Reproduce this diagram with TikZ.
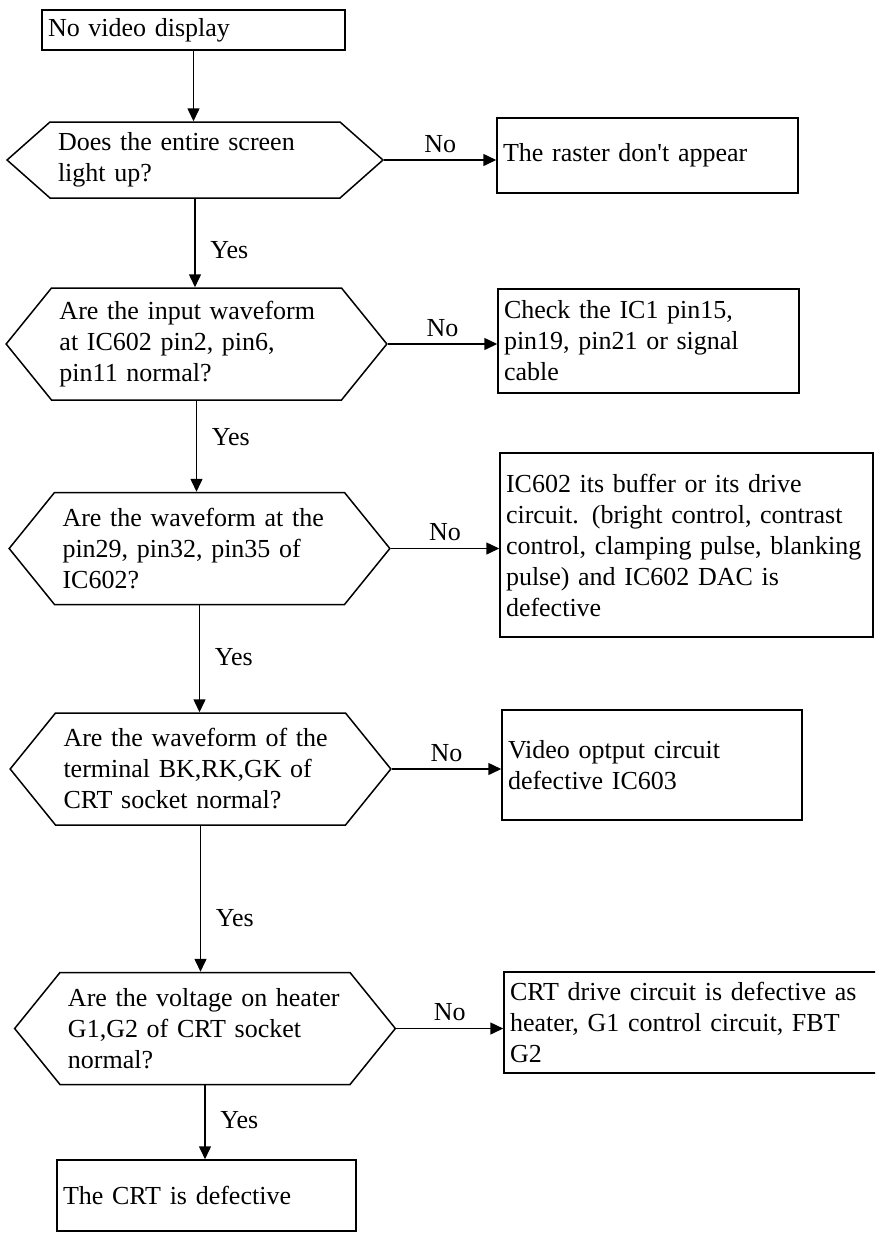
\documentclass[tikz,border=0pt]{standalone}
\usepackage{fontspec}
\setmainfont{Liberation Serif}
\usetikzlibrary{shapes.symbols,arrows.meta}

\begin{document}
\begin{tikzpicture}[x=0.5pt,y=-0.5pt,
  font=\fontsize{13pt}{15.5pt}\selectfont,line width=0.75pt,
  box/.style={draw,rectangle,align=left,inner xsep=3pt,inner ysep=0pt},
  query/.style={draw,signal,signal to=west and east,signal pointer angle=102,
    text width=137pt,align=left,inner xsep=4pt,inner ysep=0pt,minimum height=56pt},
  flow/.style={-{Triangle[length=6.5pt,width=6pt]}},
  yes/.style={right,xshift=4pt}]
\clip (0,0) rectangle (875,1233);

% questions down the left side
\node[box,text width=145.5pt,minimum height=20pt] (start) at (193.5,30) {No video display};
\node[query,signal pointer angle=83,minimum height=38pt] (q1) at (195,160)
  {Does the entire screen\\light up?};
\node[query] (q2) at (196.5,344) {Are the input waveform\\at IC602 pin2, pin6,\\pin11 normal?};
\node[query] (q3) at (199.5,548.5) {Are the waveform at the\\pin29, pin32, pin35 of\\IC602?};
\node[query] (q4) at (200.5,769) {Are the waveform of the\\terminal BK,RK,GK of\\CRT socket normal?};
\node[query] (q5) at (205,1028.5) {Are the voltage on heater\\G1,G2 of CRT socket\\normal?};
\node[box,text width=143.5pt,minimum height=35.5pt] (crt) at (206.5,1195.5) {The CRT is defective};

% faults on the right
\node[box,text width=144.5pt,minimum height=37.5pt] (r1) at (647.5,155.5) {The raster don\textquotesingle t appear};
\node[box,text width=144.5pt,minimum height=52pt] (r2) at (648.5,341)
  {Check the IC1 pin15,\\pin19, pin21 or signal\\cable};
\node[box,text width=180.5pt,minimum height=92pt] (r3) at (686.5,545)
  {IC602 its buffer or its drive\\circuit. (bright control, contrast\\control, clamping pulse, blanking\\pulse) and IC602 DAC is\\defective};
\node[box,text width=144pt,minimum height=55pt] (r4) at (652,765)
  {Video optput circuit\\defective IC603};
\node[box,text width=183pt,minimum height=50.5pt] (r5) at (693,1022.5)
  {CRT drive circuit is defective as\\heater, G1 control circuit, FBT\\G2};

% yes branch
\draw[flow] (start.south) -- (start.south |- q1.north);
\draw[flow] (q1.south) -- node[yes,pos=0.58] {Yes} (q1.south |- q2.north);
\draw[flow] (q2.south) -- node[yes,pos=0.4] {Yes} (q2.south |- q3.north);
\draw[flow] (q3.south) -- node[yes,pos=0.48] {Yes} (q3.south |- q4.north);
\draw[flow] (q4.south) -- node[yes,pos=0.63] {Yes} (q4.south |- q5.north);
\draw[flow] (q5.south) -- node[yes,pos=0.47] {Yes} (q5.south |- crt.north);

% no branch
\draw[flow] (q1.east) -- node[above] {No} (q1.east -| r1.west);
\draw[flow] (q2.east) -- node[above] {No} (q2.east -| r2.west);
\draw[flow] (q3.east) -- node[above] {No} (q3.east -| r3.west);
\draw[flow] (q4.east) -- node[above] {No} (q4.east -| r4.west);
\draw[flow] (q5.east) -- node[above] {No} (q5.east -| r5.west);
\end{tikzpicture}
\end{document}
